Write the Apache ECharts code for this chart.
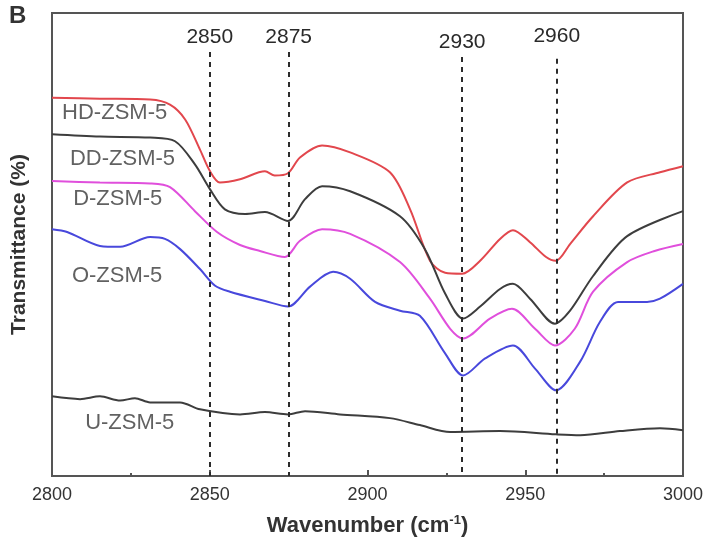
<!DOCTYPE html>
<html>
<head>
<meta charset="utf-8">
<title>FTIR spectra</title>
<script src="https://cdn.jsdelivr.net/npm/echarts@6/dist/echarts.min.js"></script>
<style>
  html, body { margin: 0; padding: 0; background: #fff; }
  #chart { width: 712px; height: 542px; }
</style>
</head>
<body>
<div id="chart"></div>
<script>
// wavenumber (cm-1) / relative transmittance
var hdZsm5 = [[2800, 81.7], [2815.2, 81.5], [2831.1, 81.3], [2837.4, 80.2], [2842.2, 77.0], [2846.9, 70.5],
    [2850.1, 65.8], [2853.2, 63.4], [2859.6, 64.1], [2867.5, 65.8], [2870.6, 64.9], [2874.8, 65.4],
    [2878.6, 68.8], [2885.6, 71.4], [2894.5, 69.9], [2907.1, 65.6], [2913.5, 57.6], [2919.8, 46.5],
    [2924.6, 43.9], [2930.0, 43.7], [2935.7, 46.5], [2942.0, 51.2], [2946.1, 53.1], [2951.5, 50.5],
    [2956.6, 47.3], [2959.7, 46.5], [2964.2, 50.1], [2971.5, 56.1], [2982.3, 63.4], [2992.7, 65.6],
    [3000, 66.9]]

var ddZsm5 = [[2800, 73.8], [2815.2, 73.3], [2831.1, 73.1], [2839.0, 72.3], [2845.3, 67.3], [2850.1, 61.9],
    [2854.8, 57.6], [2861.2, 56.6], [2867.5, 57.0], [2874.8, 55.1], [2880.2, 59.8], [2885.6, 62.6],
    [2894.5, 61.5], [2910.3, 56.1], [2918.2, 49.0], [2924.6, 39.4], [2930.3, 34.0], [2935.7, 36.6],
    [2942.0, 40.4], [2946.1, 41.5], [2951.5, 38.3], [2959.4, 32.9], [2964.2, 35.7], [2971.5, 43.2],
    [2982.3, 51.8], [3000, 57.2]]

var dZsm5 = [[2800, 63.7], [2815.2, 63.4], [2831.1, 63.2], [2837.4, 62.4], [2845.3, 57.2], [2852.3, 52.7],
    [2859.6, 49.9], [2865.9, 48.6], [2873.8, 47.3], [2878.6, 50.8], [2885.6, 53.3], [2894.5, 52.3],
    [2910.3, 46.2], [2919.8, 38.3], [2926.2, 31.8], [2930.3, 29.7], [2938.8, 34.0], [2945.8, 36.1],
    [2953.1, 31.8], [2959.4, 28.2], [2965.7, 31.8], [2971.5, 39.8], [2982.3, 46.2], [2991, 48.6],
    [3000, 50.1]]

var oZsm5 = [[2800, 53.3], [2804.8, 52.7], [2815.2, 49.7], [2821.6, 49.5], [2831.1, 51.6], [2835.8, 51.2],
    [2840.6, 49.0], [2846.9, 44.7], [2851.7, 41.1], [2856.4, 39.8], [2867.5, 37.8], [2874.8, 36.6],
    [2881.8, 40.9], [2889.1, 44.1], [2894.5, 42.6], [2902.4, 37.6], [2910.3, 35.7], [2916.6, 34.6],
    [2924.6, 26.5], [2930.3, 21.7], [2937.3, 25.4], [2946.1, 28.2], [2953.1, 23.2], [2959.8, 18.5],
    [2967.4, 24.7], [2973.7, 33.3], [2979.4, 37.6], [2988.6, 37.6], [2992.7, 38.3], [3000, 41.5]]

var uZsm5 = [[2800, 17.2], [2808.9, 16.6], [2815.2, 17.2], [2821.6, 16.3], [2826.3, 16.8], [2831.1, 15.9],
    [2840.6, 15.9], [2846.9, 14.4], [2859.6, 13.3], [2867.5, 13.8], [2874.8, 13.3], [2880.2, 14.0],
    [2891.3, 13.3], [2907.1, 12.5], [2916.6, 11.0], [2926.2, 9.5], [2942.0, 9.7], [2959.7, 9.0],
    [2967.4, 8.8], [2980.0, 9.7], [2992.7, 10.3], [3000, 9.9]]

// curve names and where they are written (wavenumber, transmittance)
var sampleNames = ['HD-ZSM-5', 'DD-ZSM-5', 'D-ZSM-5', 'O-ZSM-5', 'U-ZSM-5']
var nameAnchors = [[2803.2, 78.5], [2805.7, 68.4], [2806.7, 59.8], [2806.3, 43.2], [2810.5, 11.4]]

// marked bands
var peakPositions = [2850, 2875, 2930, 2960]
var peakLineTops = [91.6, 91.6, 90.5, 90.1]

var colors = ['#e2474d', '#3d3d3d', '#e04fdc', '#4848dc', '#3d3d3d']
var font = 'Liberation Sans, Arial, sans-serif'

var chart = echarts.init(document.getElementById('chart'))

var curves = [hdZsm5, ddZsm5, dZsm5, oZsm5, uZsm5]
var series = curves.map(function (d, i) {
    return {
        name: sampleNames[i],
        type: 'line',
        data: d,
        smooth: 0.3,
        symbol: 'none',
        lineStyle: {color: colors[i], width: 2},
        z: 3
    }
})

// dashed band markers with their labels
series[0].markLine = {
    silent: true,
    symbol: ['none', 'none'],
    lineStyle: {type: [5, 5], color: '#2b2b2b', width: 2},
    label: {
        show: true,
        position: 'start',
        formatter: '{c}',
        color: '#2a2a2a',
        fontFamily: font,
        fontSize: 21,
        distance: 4
    },
    data: peakPositions.map(function (p, i) {
        return [
            {coord: [p, peakLineTops[i]], value: p, label: {distance: i === 3 ? 12 : 4}},
            {coord: [p, 0]}
        ]
    })
}

series.push({
    type: 'scatter',
    silent: true,
    symbolSize: 0,
    data: sampleNames.map(function (n, i) {
        return {name: n, value: nameAnchors[i]}
    }),
    label: {
        show: true,
        position: 'right',
        distance: 0,
        formatter: '{b}',
        color: '#3a3a3a',
        fontFamily: font,
        fontSize: 22
    },
    z: 4
})

chart.setOption({
    animation: false,
    backgroundColor: '#fff',
    grid: {
        left: 52,
        right: 29,
        top: 13,
        bottom: 64,
        show: true,
        borderColor: '#555',
        borderWidth: 2
    },
    graphic: [{
        type: 'text',
        left: 9,
        top: 4,
        style: {text: 'B', fontFamily: font, fontSize: 24, fontWeight: 'bold', fill: '#333'}
    }],
    xAxis: {
        type: 'value',
        min: 2800,
        max: 3000,
        interval: 50,
        name: 'Wavenumber (cm{sup|-1})',
        nameLocation: 'middle',
        nameGap: 38,
        nameTextStyle: {
            fontFamily: font,
            fontSize: 22,
            fontWeight: 'bold',
            color: '#333',
            rich: {
                sup: {fontSize: 13, fontWeight: 'bold', color: '#333', verticalAlign: 'top', padding: [0, 0, 11, 0]}
            }
        },
        axisLine: {lineStyle: {color: '#555', width: 2}},
        axisTick: {inside: true, length: 6, lineStyle: {color: '#555', width: 2}},
        minorTick: {show: true, splitNumber: 2, length: 3, lineStyle: {color: '#555', width: 2}},
        axisLabel: {
            fontFamily: font,
            fontSize: 18,
            color: '#333',
            margin: 10,
            formatter: function (v) { return String(v) }
        },
        splitLine: {show: false}
    },
    yAxis: {
        type: 'value',
        min: 0,
        max: 100,
        name: 'Transmittance (%)',
        nameLocation: 'middle',
        nameGap: 22,
        nameTextStyle: {fontFamily: font, fontSize: 21, fontWeight: 'bold', color: '#333'},
        axisLine: {show: true, lineStyle: {color: '#555', width: 2}},
        axisTick: {show: false},
        axisLabel: {show: false},
        splitLine: {show: false}
    },
    series: series
})
</script>
</body>
</html>
